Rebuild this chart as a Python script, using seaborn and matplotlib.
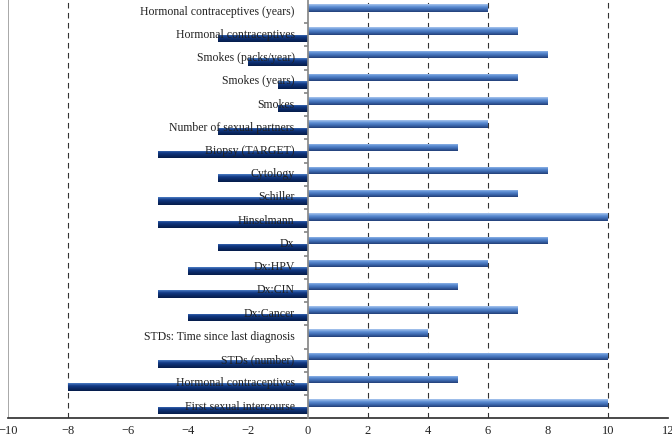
import numpy as np
import pandas as pd
import seaborn as sns
import matplotlib.pyplot as plt
from matplotlib.colors import LinearSegmentedColormap

sns.set_theme(style='white')
plt.rcParams['font.family'] = ['Liberation Serif', 'DejaVu Serif']

# categories top to bottom
labels = ['Hormonal contraceptives (years)', 'Hormonal contraceptives',
          'Smokes (packs/year)', 'Smokes (years)', 'Smokes',
          'Number of sexual partners', 'Biopsy (TARGET)', 'Cytology',
          'Schiller', 'Hinselmann', 'Dx', 'Dx:HPV', 'Dx:CIN', 'Dx:Cancer',
          'STDs: Time since last diagnosis', 'STDs (number)',
          'Hormonal contraceptives', 'First sexual intercourse']
pos_vals = [6, 7, 8, 7, 8, 6, 5, 8, 7, 10, 8, 6, 5, 7, 4, 10, 5, 10]
neg_vals = [0, -3, -2, -1, -1, -3, -5, -3, -5, -5, -3, -4, -5, -4, 0, -5, -8, -5]
grid_x = [-8, 2, 4, 6, 10]
xticks = list(range(-10, 13, 2))

# duplicate label names -> use ids as the categorical key
ids = ['c%d' % i for i in range(len(labels))]
df = pd.DataFrame({
    'id': ids * 2,
    'value': pos_vals + neg_vals,
    'sign': ['pos'] * len(ids) + ['neg'] * len(ids),
})

fig = plt.figure(figsize=(6.72, 4.37), dpi=100)
ax = fig.add_axes([0.012, 0.043, 0.982, 0.957])

sns.barplot(data=df, x='value', y='id', hue='sign', hue_order=['pos', 'neg'],
            order=ids, orient='h', width=0.64, dodge=True,
            palette={'pos': '#4f7fc6', 'neg': '#123a85'},
            legend=False, ax=ax, zorder=3)

# cylinder-like shading on each bar
cm_pos = LinearSegmentedColormap.from_list('p', ['#a9c6ee', '#5d8ed4', '#3d69b0', '#223f78'])
cm_neg = LinearSegmentedColormap.from_list('n', ['#4b7cc4', '#123a85', '#0b2a66', '#061c4a'])
grad = np.linspace(0, 1, 32).reshape(-1, 1)
for p in list(ax.patches):
    w = p.get_width()
    if w == 0:
        p.set_visible(False)
        continue
    x0, y0 = p.get_x(), p.get_y()
    h = p.get_height()
    cmap = cm_pos if w > 0 else cm_neg
    im = ax.imshow(grad, cmap=cmap, aspect='auto', zorder=3,
                   extent=[min(x0, x0 + w), max(x0, x0 + w), y0 + h, y0],
                   interpolation='bilinear')
    im.set_clip_path(p)
    p.set_facecolor('none')
    p.set_edgecolor('none')

for gx in grid_x:
    ax.axvline(gx, color='#333333', lw=0.8, ls=(0, (5, 4)), zorder=1)
ax.axvline(-10, color='#999999', lw=1.2, zorder=2)

for i, lab in enumerate(labels):
    ax.text(-0.45, i, lab, ha='right', va='center', fontsize=8.5,
            color='#222222', zorder=5)

ax.set_xlim(-10, 12)
ax.set_ylim(len(ids) - 0.5, -0.5)
ax.set_xticks(xticks)
ax.set_xticklabels([str(t).replace('-', '\u2212') for t in xticks], fontsize=9)
ax.set_yticks(np.arange(len(ids) - 1) + 0.5)
ax.set_yticklabels([])
ax.set_xlabel('')
ax.set_ylabel('')

for s in ['top', 'right']:
    ax.spines[s].set_visible(False)
ax.spines['left'].set_position(('data', 0))
ax.spines['left'].set_color('#888888')
ax.spines['left'].set_zorder(4)
ax.spines['bottom'].set_color('#333333')
ax.tick_params(axis='y', direction='out', length=3, color='#888888', left=True)
ax.tick_params(axis='x', length=0, pad=5, colors='#222222')

fig.savefig('out.png', dpi=100)
